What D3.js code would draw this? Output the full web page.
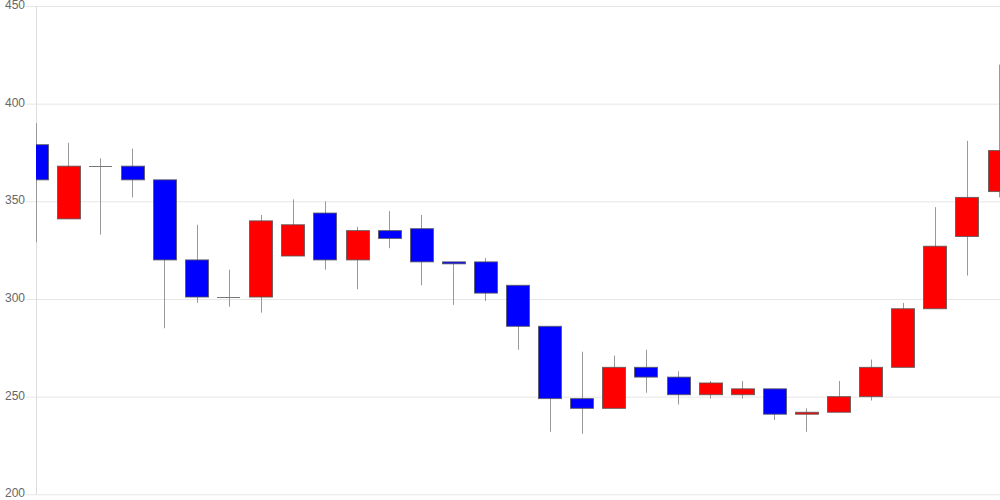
<!DOCTYPE html>
<html>
<head>
<meta charset="utf-8">
<script src="https://cdn.jsdelivr.net/npm/d3@7"></script>
<style>
  html, body { margin: 0; padding: 0; background: #fff; }
  svg { display: block; }
</style>
</head>
<body>
<svg id="chart" width="1000" height="500"></svg>
<script>
const opens  = [379, 341, 368, 368, 361, 320, 301, 301, 322, 344, 320, 335, 336, 319, 319, 307, 286, 249, 244, 265, 260, 251, 251, 254, 241, 242, 250, 265, 295, 332, 355];
const closes = [361, 368, 368, 361, 320, 301, 301, 340, 338, 320, 335, 331, 319, 318, 303, 286, 249, 244, 265, 260, 251, 257, 254, 241, 242, 250, 265, 295, 327, 352, 376];
const highs  = [390, 380, 372, 377, 361, 338, 315, 343, 351, 350, 337, 345, 343, 319, 321, 307, 286, 273, 271, 274, 263, 258, 258, 254, 244, 258, 269, 298, 347, 381, 420];
const lows   = [329, 341, 333, 352, 285, 298, 296, 293, 322, 315, 305, 326, 307, 297, 299, 274, 232, 231, 244, 252, 246, 249, 249, 238, 232, 242, 248, 265, 295, 312, 352];
const yTicks = [200, 250, 300, 350, 400, 450];

(function () {
const data = opens.map((o, i) => ({i, o, c: closes[i], h: highs[i], l: lows[i]}));

const svg = d3.select("#chart");
const pLeft = 36, pRight = 1000, pTop = 6, pBottom = 494.3;

const x = d3.scalePoint().domain(d3.range(data.length)).range([pLeft, pRight - 1]);
const y = d3.scaleLinear().domain([200, 450]).range([pBottom, pTop]);
const bw = 23;

// gridlines + ticks
const yAxis = d3.axisLeft(y).tickValues(yTicks).tickSize(0).tickPadding(0);
const g = svg.append("g").attr("transform", `translate(${pLeft - 10},0)`).call(yAxis);
g.select(".domain").remove();
g.selectAll(".tick line").attr("stroke", "#e6e6e6").attr("x1", 0).attr("x2", pRight - pLeft + 10);
g.selectAll(".tick text")
  .attr("fill", "#666")
  .attr("font-family", "Liberation Sans, Arial, sans-serif")
  .attr("font-size", 12)
  .attr("x", -1)
  .attr("dy", "0.22em");

// vertical axis line
svg.append("line")
  .attr("x1", pLeft + 0.5).attr("x2", pLeft + 0.5)
  .attr("y1", pTop).attr("y2", pBottom)
  .attr("stroke", "#ddd");

svg.append("clipPath").attr("id", "clip")
  .append("rect").attr("x", pLeft).attr("y", 0).attr("width", pRight - pLeft).attr("height", 500);

const plot = svg.append("g").attr("clip-path", "url(#clip)");

plot.selectAll("line.wick").data(data).join("line")
  .attr("class", "wick")
  .attr("x1", d => Math.round(x(d.i)) + 0.5)
  .attr("x2", d => Math.round(x(d.i)) + 0.5)
  .attr("y1", d => y(d.h))
  .attr("y2", d => y(d.l))
  .attr("stroke", "#999");

plot.selectAll("rect.body").data(data.filter(d => d.o !== d.c)).join("rect")
  .attr("class", "body")
  .attr("x", d => Math.round(x(d.i) - bw / 2) + 0.5)
  .attr("width", bw)
  .attr("y", d => y(Math.max(d.o, d.c)))
  .attr("height", d => Math.max(1, y(Math.min(d.o, d.c)) - y(Math.max(d.o, d.c))))
  .attr("fill", d => d.c > d.o ? "#ff0000" : "#0000ff")
  .attr("stroke", "#555")
  .attr("stroke-opacity", 0.8);

plot.selectAll("line.doji").data(data.filter(d => d.o === d.c)).join("line")
  .attr("class", "doji")
  .attr("x1", d => Math.round(x(d.i) - bw / 2))
  .attr("x2", d => Math.round(x(d.i) + bw / 2))
  .attr("y1", d => Math.round(y(d.o)) + 0.5)
  .attr("y2", d => Math.round(y(d.o)) + 0.5)
  .attr("stroke", "#777");
})();
</script>
</body>
</html>
